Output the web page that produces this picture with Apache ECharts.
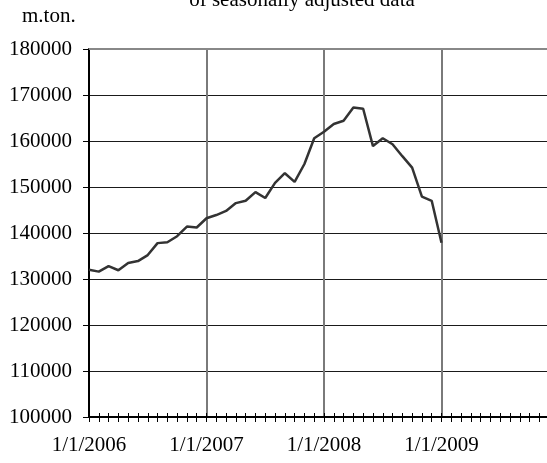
<!DOCTYPE html>
<html>
<head>
<meta charset="utf-8">
<script src="https://cdn.jsdelivr.net/npm/echarts@6/dist/echarts.min.js"></script>
<style>
  html, body { margin: 0; padding: 0; background: #fff; }
  #chart { width: 547px; height: 463px; }
</style>
</head>
<body>
<div id="chart"></div>
<script>
    // monthly axis Jan 2006 .. Jan 2010, labels only on January
    const years = [2006, 2007, 2008, 2009, 2010];
    const months = [];
    years.forEach(function (y) {
        for (let m = 1; m <= 12; m++) {
            if (y === 2010 && m > 1) break;
            months.push(m + '/1/' + y);
        }
    });

    // m.ton., seasonally adjusted, Jan 2006 .. Jan 2009
    const values = [
        132000, 131600, 132800, 131900, 133500, 133900, 135200, 137800, 138000, 139300, 141400, 141200,
        143200, 143900, 144800, 146500, 147000, 148900, 147600, 150900, 153000, 151100, 155000, 160600,
        162000, 163700, 164400, 167300, 167000, 158900, 160600, 159300, 156700, 154200, 147900, 147000,
        137900
    ];

    const yMin = 100000;
    const yMax = 180000;
    const yStep = 10000;

    const font = 'Liberation Serif';
    const myChart = echarts.init(document.getElementById('chart'));

    const isYearStart = function (idx) { return idx % 12 === 0; };
    // the last january (2010) sits just past the right edge, no label for it
    const showLabel = function (idx) { return idx % 12 === 0 && idx < months.length - 1; };

    const chartOption = {
        animation: false,
        title: {
            text: 'of seasonally adjusted data',
            left: 297,
            textAlign: 'center',
            top: -15,
            textStyle: { fontFamily: font, fontSize: 21, fontWeight: 'normal', color: '#000' }
        },
        graphic: [{
            type: 'text',
            left: 22,
            top: 6,
            style: { text: 'm.ton.', font: '21px "Liberation Serif"', fill: '#000' }
        }],
        grid: {
            left: 89,
            right: -12,
            top: 49,
            bottom: 46,
            containLabel: false,
            outerBoundsMode: 'none'
        },
        xAxis: [
            {
                type: 'category',
                data: months,
                boundaryGap: false,
                position: 'bottom',
                axisLine: { lineStyle: { color: '#000', width: 2 } },
                axisTick: { interval: 0, length: 5, lineStyle: { color: '#000', width: 1 } },
                axisLabel: {
                    interval: showLabel,
                    margin: 18,
                    fontFamily: font,
                    fontSize: 21,
                    color: '#000'
                },
                splitLine: {
                    show: true,
                    interval: isYearStart,
                    lineStyle: { color: '#7a7a7a', width: 2 }
                }
            },
            {
                type: 'category',
                data: months,
                boundaryGap: false,
                position: 'bottom',
                axisLine: { show: false },
                axisTick: { interval: 0, inside: true, length: 4, lineStyle: { color: '#000', width: 1 } },
                axisLabel: { show: false },
                splitLine: { show: false }
            }
        ],
        yAxis: {
            type: 'value',
            min: yMin,
            max: yMax,
            interval: yStep,
            axisLine: { show: true, lineStyle: { color: '#000', width: 2 } },
            axisTick: { show: true, length: 6, lineStyle: { color: '#000' } },
            axisLabel: {
                margin: 17,
                fontFamily: font,
                fontSize: 21,
                color: '#000',
                formatter: function (v) { return String(v); }
            },
            splitLine: { lineStyle: { color: '#1a1a1a', width: 1 } }
        },
        series: [
            {
                type: 'line',
                data: values,
                symbol: 'none',
                lineStyle: { color: '#333', width: 2.5 },
                z: 5,
                markLine: {
                    silent: true,
                    symbol: 'none',
                    label: { show: false },
                    lineStyle: { color: '#888', width: 2, type: 'solid' },
                    data: [{ yAxis: yMax }]
                }
            }
        ]
    };
    myChart.setOption(chartOption);
</script>
</body>
</html>
